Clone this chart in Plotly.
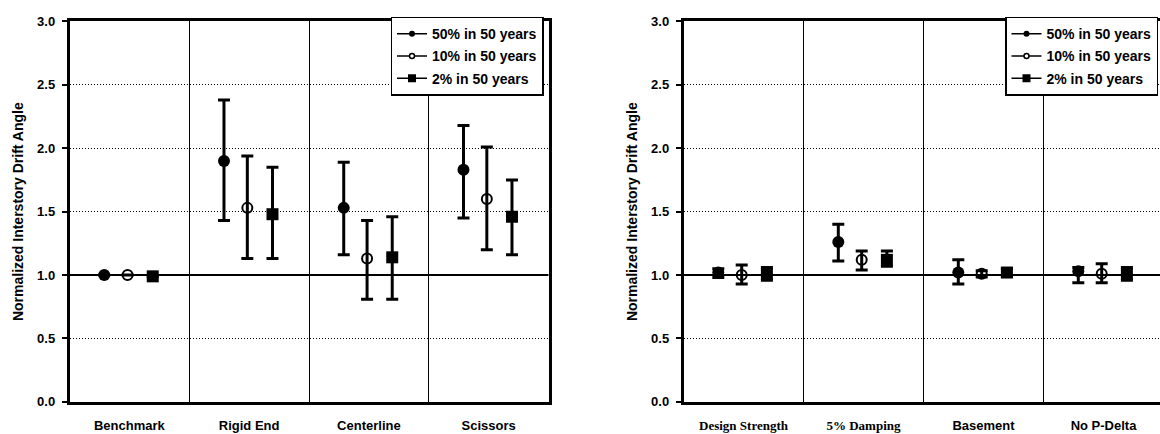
import plotly.graph_objects as go
from plotly.subplots import make_subplots

# ---------------- data ----------------
series_names = ["50% in 50 years", "10% in 50 years", "2% in 50 years"]

cats_left = ["Benchmark", "Rigid End", "Centerline", "Scissors"]
left_50 = [1.00, 1.90, 1.53, 1.83]
left_50_hi = [1.00, 2.38, 1.89, 2.18]
left_50_lo = [1.00, 1.43, 1.16, 1.45]
left_10 = [1.00, 1.53, 1.13, 1.60]
left_10_hi = [1.00, 1.94, 1.43, 2.01]
left_10_lo = [1.00, 1.13, 0.81, 1.20]
left_2 = [0.99, 1.48, 1.14, 1.46]
left_2_hi = [0.99, 1.85, 1.46, 1.75]
left_2_lo = [0.99, 1.13, 0.81, 1.16]

cats_right = ["Design Strength", "5% Damping", "Basement", "No P-Delta"]
right_50 = [1.02, 1.26, 1.02, 1.03]
right_50_hi = [1.05, 1.40, 1.12, 1.06]
right_50_lo = [0.98, 1.11, 0.93, 0.94]
right_10 = [1.00, 1.12, 1.01, 1.01]
right_10_hi = [1.08, 1.19, 1.035, 1.09]
right_10_lo = [0.93, 1.04, 0.985, 0.94]
right_2 = [1.01, 1.12, 1.02, 1.01]
right_2_hi = [1.06, 1.19, 1.05, 1.06]
right_2_lo = [0.96, 1.07, 0.99, 0.96]

y_ticks = [0.0, 0.5, 1.0, 1.5, 2.0, 2.5, 3.0]

# ---------------- styling ----------------
SANS = "Liberation Sans, Arial, sans-serif"
SERIF_SPAN = '<span style="font-family:Liberation Serif, Times New Roman, serif">{}</span>'
serif_labels = {"Design Strength", "5% Damping"}
offsets = [-0.21, -0.015, 0.195]
marker_styles = [
    dict(symbol="circle", size=12, color="black", line=dict(color="black", width=0)),
    dict(symbol="circle-open", size=10, color="black", line=dict(color="black", width=2)),
    dict(symbol="square", size=12, color="black", line=dict(color="black", width=0)),
]
legend_markers = [
    dict(symbol="circle", size=6, color="black"),
    dict(symbol="circle", size=5, color="white", line=dict(color="black", width=1.5)),
    dict(symbol="square", size=8, color="black"),
]

fig = make_subplots(rows=1, cols=2)


def add_panel(col, vals, his, los, legend_name):
    for k in range(3):
        v, hi, lo = vals[k], his[k], los[k]
        xs = [i + offsets[k] for i in range(len(v))]
        fig.add_trace(
            go.Scatter(
                x=xs, y=v, mode="markers",
                marker=marker_styles[k],
                error_y=dict(type="data", symmetric=False,
                             array=[h - a for h, a in zip(hi, v)],
                             arrayminus=[a - l for a, l in zip(v, lo)],
                             color="black", thickness=3, width=6),
                showlegend=False, cliponaxis=False,
            ),
            row=1, col=col,
        )
    for k in range(3):
        fig.add_trace(
            go.Scatter(
                x=[None], y=[None], mode="lines+markers", name=series_names[k],
                line=dict(color="black", width=1.5), marker=legend_markers[k],
                legend=legend_name, legendgroup=f"{legend_name}_{k}",
            ),
            row=1, col=col,
        )


add_panel(1, [left_50, left_10, left_2], [left_50_hi, left_10_hi, left_2_hi],
          [left_50_lo, left_10_lo, left_2_lo], "legend")
add_panel(2, [right_50, right_10, right_2], [right_50_hi, right_10_hi, right_2_hi],
          [right_50_lo, right_10_lo, right_2_lo], "legend2")

W, H = 1160, 434
ydom = [1 - 409 / H, 1 - 15 / H]
left_dom = [69.5 / W, 548.5 / W]
right_dom = [683.5 / W, 1.0]
right_max = -0.5 + 4 * (W - 683.5) / 480.0

right_text = [SERIF_SPAN.format(c) if c in serif_labels else c for c in cats_right]

tickfont = dict(family=SANS, size=13, color="black", weight="bold")

common_x = dict(
    tickmode="array", tickvals=[0, 1, 2, 3], ticks="", showgrid=False,
    showline=True, linecolor="black", linewidth=2.5, mirror=True,
    zeroline=False, tickfont=tickfont, ticklabelstandoff=10,
    minor=dict(tickmode="array", tickvals=[0.5, 1.5, 2.5], showgrid=True,
               gridcolor="black", gridwidth=1.3, ticks=""),
)
common_y = dict(
    range=[0, 3], tickmode="array", tickvals=y_ticks,
    ticktext=[f"{t:.1f}" for t in y_ticks],
    showgrid=True, gridcolor="black", gridwidth=1, griddash="1px,2px",
    showline=True, linecolor="black", linewidth=2.5,
    ticks="outside", ticklen=5, tickwidth=1.5, tickcolor="black",
    zeroline=False, tickfont=tickfont, ticklabelstandoff=4,
    title=dict(text="Normalized Interstory Drift Angle",
               font=dict(family=SANS, size=14, color="black", weight="bold"),
               standoff=11),
)

fig.update_xaxes(**common_x)
fig.update_yaxes(**common_y)
fig.update_xaxes(range=[-0.5, 3.5], domain=left_dom, ticktext=cats_left, row=1, col=1)
fig.update_xaxes(range=[-0.5, right_max], domain=right_dom, ticktext=right_text,
                 row=1, col=2)
fig.update_yaxes(domain=ydom, mirror=True, row=1, col=1)
fig.update_yaxes(domain=ydom, mirror=False, row=1, col=2)

legend_common = dict(
    bgcolor="white", bordercolor="black", borderwidth=1.5,
    font=dict(family=SANS, size=14, color="black", weight="bold"),
    xanchor="right", yanchor="top", y=1 - 10 / H,
    tracegroupgap=1, traceorder="grouped",
)
fig.update_layout(
    width=W, height=H,
    margin=dict(l=0, r=0, t=0, b=0),
    paper_bgcolor="white", plot_bgcolor="white",
    legend=dict(x=543.5 / W, **legend_common),
    legend2=dict(x=1158 / W, **legend_common),
    shapes=[
        dict(type="line", xref="x domain", yref="y", x0=0, x1=1, y0=1, y1=1,
             line=dict(color="black", width=2), layer="below"),
        dict(type="line", xref="x2 domain", yref="y2", x0=0, x1=1, y0=1, y1=1,
             line=dict(color="black", width=2), layer="below"),
    ],
)

fig.write_html("out.html")
